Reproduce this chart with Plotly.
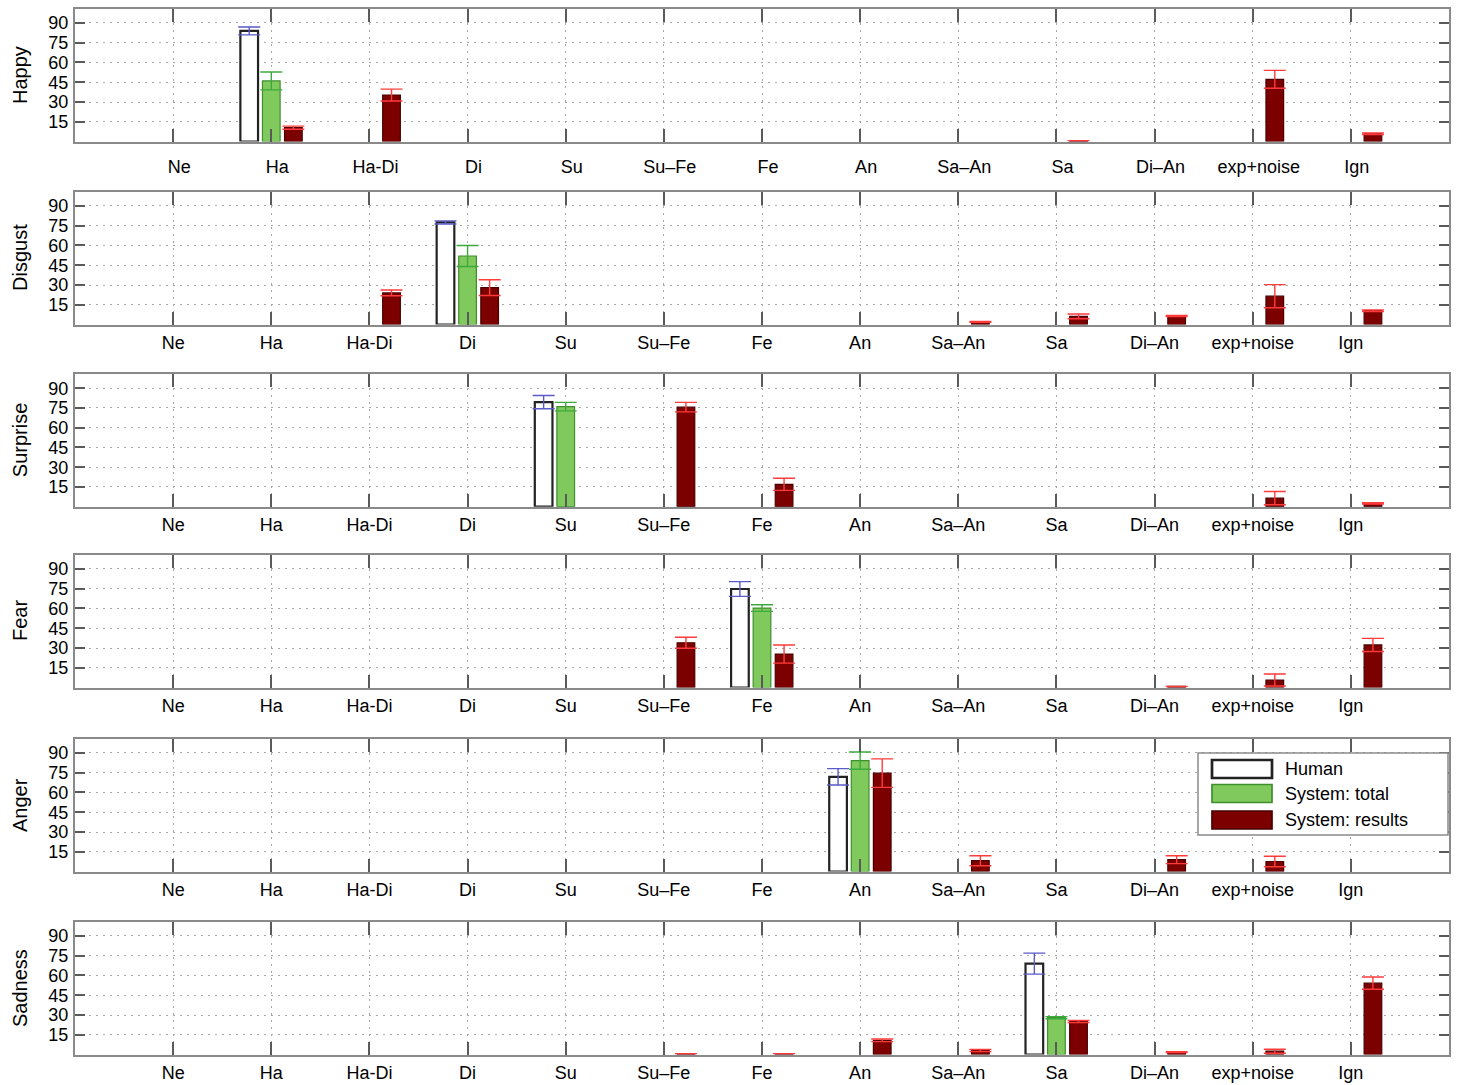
import plotly.graph_objects as go

# Category labels along every x axis
categories = ["Ne", "Ha", "Ha-Di", "Di", "Su", "Su\u2013Fe", "Fe", "An",
              "Sa\u2013An", "Sa", "Di\u2013An", "exp+noise", "Ign"]

panel_names = ["Happy", "Disgust", "Surprise", "Fear", "Anger", "Sadness"]
y_tick_values = [15, 30, 45, 60, 75, 90]

N = None

# Happy
happy_human = [N, 84, N, N, N, N, N, N, N, N, N, N, N]
happy_human_err = [N, 3, N, N, N, N, N, N, N, N, N, N, N]
happy_total = [N, 46, N, N, N, N, N, N, N, N, N, N, N]
happy_total_err = [N, 6.8, N, N, N, N, N, N, N, N, N, N, N]
happy_results = [N, 10.5, 35.3, N, N, N, N, N, N, 0.6, N, 47.2, 5.8]
happy_results_err = [N, 1.2, 4.5, N, N, N, N, N, N, 0, N, 6.8, 0.6]

# Disgust
disgust_human = [N, N, N, 77.5, N, N, N, N, N, N, N, N, N]
disgust_human_err = [N, N, N, 1.2, N, N, N, N, N, N, N, N, N]
disgust_total = [N, N, N, 52, N, N, N, N, N, N, N, N, N]
disgust_total_err = [N, N, N, 8, N, N, N, N, N, N, N, N, N]
disgust_results = [N, N, 24, 28, N, N, N, N, 2, 6.2, 6.5, 21.5, 10.5]
disgust_results_err = [N, N, 2.2, 6, N, N, N, N, 0.4, 1.8, 0.4, 8.8, 0.6]

# Surprise
surprise_human = [N, N, N, N, 79.4, N, N, N, N, N, N, N, N]
surprise_human_err = [N, N, N, N, 5, N, N, N, N, N, N, N, N]
surprise_total = [N, N, N, N, 76, N, N, N, N, N, N, N, N]
surprise_total_err = [N, N, N, N, 3.2, N, N, N, N, N, N, N, N]
surprise_results = [N, N, N, N, N, 75.6, 17, N, N, N, N, 6.5, 2.5]
surprise_results_err = [N, N, N, N, N, 3.6, 4.6, N, N, N, N, 5, 0.5]

# Fear
fear_human = [N, N, N, N, N, N, 74.8, N, N, N, N, N, N]
fear_human_err = [N, N, N, N, N, N, 5.6, N, N, N, N, N, N]
fear_total = [N, N, N, N, N, N, 60.3, N, N, N, N, N, N]
fear_total_err = [N, N, N, N, N, N, 2.5, N, N, N, N, N, N]
fear_results = [N, N, N, N, N, 34, 25.4, N, N, N, 0.8, 5.7, 32.3]
fear_results_err = [N, N, N, N, N, 4.2, 6.9, N, N, N, 0, 4.6, 5]

# Anger
anger_human = [N, N, N, N, N, N, N, 71.9, N, N, N, N, N]
anger_human_err = [N, N, N, N, N, N, N, 6.2, N, N, N, N, N]
anger_total = [N, N, N, N, N, N, N, 84.2, N, N, N, N, N]
anger_total_err = [N, N, N, N, N, N, N, 6.5, N, N, N, N, N]
anger_results = [N, N, N, N, N, N, N, 74.7, 8.2, N, 9, 7.6, N]
anger_results_err = [N, N, N, N, N, N, N, 10.8, 3.8, N, 3, 4, N]

# Sadness
sadness_human = [N, N, N, N, N, N, N, N, N, 69, N, N, N]
sadness_human_err = [N, N, N, N, N, N, N, N, N, 8, N, N, N]
sadness_total = [N, N, N, N, N, N, N, N, N, 28, N, N, N]
sadness_total_err = [N, N, N, N, N, N, N, N, N, 0.8, N, N, N]
sadness_results = [N, N, N, N, N, 0.6, 0.6, 10.8, 3, 25, 1.8, 2.5, 54.2]
sadness_results_err = [N, N, N, N, N, 0, 0, 1, 0.8, 0.8, 0.4, 1.5, 4.6]

panels = [
    (happy_human, happy_human_err, happy_total, happy_total_err, happy_results, happy_results_err),
    (disgust_human, disgust_human_err, disgust_total, disgust_total_err, disgust_results, disgust_results_err),
    (surprise_human, surprise_human_err, surprise_total, surprise_total_err, surprise_results, surprise_results_err),
    (fear_human, fear_human_err, fear_total, fear_total_err, fear_results, fear_results_err),
    (anger_human, anger_human_err, anger_total, anger_total_err, anger_results, anger_results_err),
    (sadness_human, sadness_human_err, sadness_total, sadness_total_err, sadness_results, sadness_results_err),
]

series_names = ["Human", "System: total", "System: results"]

# ---- styling -------------------------------------------------------------
W, H = 1460, 1085
FONT = "Liberation Sans, Arial, Helvetica, sans-serif"
fill_colors = ["#ffffff", "#80c95c", "#7c0000"]
edge_colors = ["#222222", "#3f8f2e", "#4a0000"]
edge_widths = [2.2, 1.2, 1.2]
err_colors = ["#5a5ac8", "#3caa3c", "#ff3b3b"]
BAR_W = 0.18
SHIFT = 0.225
offsets = [-SHIFT - BAR_W / 2, -BAR_W / 2, SHIFT - BAR_W / 2]

# pixel geometry of panels (top, bottom)
panel_px = [(8.5, 141.5), (191.5, 324.5), (373.7, 506.7),
            (554.5, 687.5), (738.5, 871.5), (921.5, 1054.5)]
x_dom = [75 / W, 1449 / W]

fig = go.Figure()
layout = dict(
    width=W, height=H,
    margin=dict(l=0, r=0, t=0, b=0),
    paper_bgcolor="white", plot_bgcolor="white",
    barmode="overlay", showlegend=False,
    font=dict(family=FONT, color="black"),
)

grid_dash = "2px,5px"
annotations = []
for k, (name, data) in enumerate(zip(panel_names, panels)):
    idx = "" if k == 0 else str(k + 1)
    xa, ya = "x" + idx, "y" + idx
    top, bot = panel_px[k]
    y_dom = [1 - bot / H, 1 - top / H]

    for s in range(3):
        vals, errs = data[2 * s], data[2 * s + 1]
        fig.add_trace(go.Bar(
            x=categories, y=vals, name=series_names[s],
            xaxis=xa, yaxis=ya,
            offset=offsets[s], width=BAR_W,
            marker=dict(color=fill_colors[s],
                        line=dict(color=edge_colors[s], width=edge_widths[s])),
            error_y=dict(type="data", array=errs, visible=True,
                         color=err_colors[s], thickness=1.4, width=11),
        ))

    layout["xaxis" + idx] = dict(
        domain=x_dom, anchor=ya, type="category",
        categoryorder="array", categoryarray=categories,
        range=[-1, 13], tickvals=categories,
        showgrid=True, gridcolor="#a8a8a8", griddash=grid_dash, gridwidth=1,
        showline=True, linecolor="#8a8a8a", linewidth=2, mirror="ticks",
        ticks="inside", ticklen=13, tickwidth=2, tickcolor="#5a5a5a",
        tickfont=dict(size=18, family=FONT, color="black"),
        ticklabelstandoff=(8 if k == 0 else 1),
        ticklabelshift=(6 if k == 0 else 0),
        zeroline=False, fixedrange=True, automargin=False,
    )
    layout["yaxis" + idx] = dict(
        domain=y_dom, anchor=xa, range=[0, 101],
        tickvals=y_tick_values,
        showgrid=True, gridcolor="#a8a8a8", griddash=grid_dash, gridwidth=1,
        showline=True, linecolor="#8a8a8a", linewidth=2, mirror="ticks",
        ticks="inside", ticklen=10, tickwidth=2, tickcolor="#5a5a5a",
        tickfont=dict(size=18, family=FONT, color="black"),
        ticklabelstandoff=1,
        zeroline=False, fixedrange=True, automargin=False,
    )
    annotations.append(dict(
        text=name, textangle=-90, xref="paper", yref="paper",
        x=20 / W, y=1 - (top + bot) / 2 / H, xanchor="center", yanchor="middle",
        showarrow=False, font=dict(size=20, family=FONT, color="black"),
    ))

# legend box drawn in the Anger panel's upper right corner
shapes = []
def px_rect(x0, y0, x1, y1, **kw):
    return dict(type="rect", xref="paper", yref="paper",
                x0=x0 / W, x1=x1 / W, y0=1 - y1 / H, y1=1 - y0 / H,
                layer="above", **kw)

shapes.append(px_rect(1198, 753, 1448, 835, fillcolor="white",
                      line=dict(color="#8a8a8a", width=1.5)))
swatch_rows = [(760, 778), (784.5, 802.5), (811, 829)]
for s, (y0, y1) in enumerate(swatch_rows):
    shapes.append(px_rect(1212, y0, 1272, y1, fillcolor=fill_colors[s],
                          line=dict(color=edge_colors[s], width=edge_widths[s] + 0.5)))
    annotations.append(dict(
        text=series_names[s], xref="paper", yref="paper",
        x=1283 / W, y=1 - (y0 + y1) / 2 / H, xanchor="left", yanchor="middle",
        showarrow=False, font=dict(size=18, family=FONT, color="black"),
    ))

layout["annotations"] = annotations
layout["shapes"] = shapes
fig.update_layout(**layout)

fig.write_html("out.html", config={"displayModeBar": False})
